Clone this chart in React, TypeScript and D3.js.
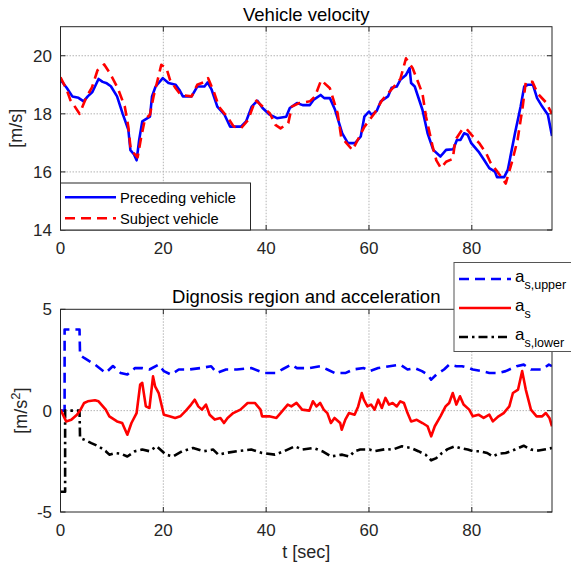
import React from "react";
import * as d3 from "d3";

// ---- Vehicle velocity (m/s) ----
const precedingT = [0, 1.2, 2.3, 3.5, 4.5, 5.3, 6.2, 7.4, 8.2, 9, 9.8, 11, 12.1, 13.2, 13.6, 14.3, 14.8, 15.3, 15.9, 17.4, 17.8, 18.5, 19.9, 21, 22.4, 23.1, 23.8, 25.5, 26.6, 28, 28.6, 29.4, 30.5, 31.9, 33, 35.1, 36.1, 37.2, 38.3, 39.3, 40.7, 42.1, 43.9, 44.6, 46, 47.1, 48.5, 49.2, 50.6, 51.3, 52.4, 53.4, 54.8, 55.9, 57.3, 58.4, 59.1, 60, 60.5, 61.5, 62.3, 63.7, 64.4, 65.4, 66.1, 67.2, 67.9, 68.2, 68.9, 70.4, 71.4, 72.5, 73.9, 75, 76.4, 77.1, 77.8, 78.5, 79.2, 79.9, 81.3, 82.4, 83.4, 84.5, 84.9, 86.3, 87, 88.4, 89.5, 90.2, 90.9, 91.9, 92.7, 93.7, 94.8, 95.6];
const precedingV = [19.17, 18.9, 18.6, 18.55, 18.43, 18.6, 18.75, 19.2, 19.1, 19.05, 18.95, 18.6, 18.0, 17.45, 16.75, 16.6, 16.4, 17.1, 17.74, 17.9, 18.6, 18.94, 19.23, 19.06, 19.0, 18.83, 18.6, 18.6, 18.94, 18.94, 19.08, 18.83, 18.25, 17.97, 17.56, 17.56, 17.74, 18.25, 18.45, 18.2, 17.97, 17.85, 17.9, 18.2, 18.37, 18.3, 18.3, 18.48, 18.65, 18.54, 18.54, 18.14, 17.33, 16.99, 16.99, 17.22, 17.9, 18.08, 17.97, 18.1, 18.43, 18.6, 18.9, 18.94, 19.17, 19.34, 19.57, 19.06, 18.94, 18.14, 17.33, 16.76, 16.53, 16.76, 16.78, 17.1, 17.1, 17.33, 17.28, 16.99, 16.7, 16.41, 16.13, 16.01, 15.82, 15.82, 16.07, 17.33, 18.25, 18.94, 19.0, 19.0, 18.54, 18.25, 17.97, 17.24];

const subjectT = [0, 1.2, 1.9, 2.6, 3.7, 5.1, 6.1, 7.2, 8.5, 9.6, 11.1, 12.5, 13.2, 13.6, 14.3, 15, 15.7, 16.4, 17.4, 18.1, 18.9, 19.6, 20.6, 21.3, 22.4, 23.4, 25.5, 26.6, 28, 28.7, 29.8, 30.8, 32.6, 33.7, 35.1, 36.5, 37.9, 39.3, 40.7, 41.8, 42.8, 44.3, 45, 46.4, 48.5, 49.5, 50.7, 52.4, 53.9, 54.6, 56.8, 59.1, 61, 62.6, 64.7, 66.1, 67.2, 68.5, 70.4, 71.1, 72.4, 73.1, 74, 75, 76.3, 76.8, 78.1, 78.9, 80.5, 81.5, 82.8, 83.7, 85, 85.7, 86.6, 87.9, 88.9, 89.9, 90.5, 91.8, 92.8, 94.4, 95.6];
const subjectV = [19.26, 18.83, 18.48, 18.3, 18.0, 18.6, 18.9, 19.5, 19.7, 19.4, 18.9, 18.25, 17.55, 16.87, 16.64, 16.5, 17.2, 17.8, 17.97, 18.6, 19.17, 19.69, 19.57, 19.17, 18.88, 18.65, 18.6, 19.0, 19.1, 19.23, 18.77, 18.25, 17.85, 17.56, 17.5, 17.79, 18.48, 18.25, 18.02, 17.62, 17.5, 17.68, 18.25, 18.37, 18.43, 18.6, 19.16, 18.88, 18.02, 17.2, 16.75, 17.55, 18.0, 18.48, 18.9, 19.2, 19.91, 19.57, 18.7, 17.9, 16.86, 16.4, 16.13, 16.35, 16.45, 17.1, 17.45, 17.5, 17.16, 16.98, 16.64, 16.3, 16.0, 15.83, 15.6, 16.4, 17.1, 18.24, 19.1, 19.1, 18.7, 18.4, 18.0];

// ---- Diagnosis region and acceleration (m/s^2) ----
const upperT = [0, 0.8, 0.8, 3.7, 3.8, 4.6, 6.7, 8.8, 10.2, 11.7, 13, 14.5, 15.9, 17.3, 19.1, 20.1, 21.5, 23, 25, 27.2, 29.3, 30.4, 32.2, 34.3, 37.1, 39.6, 42, 43.1, 44.9, 46, 48.4, 50.5, 51.9, 53.3, 55.5, 56.9, 59, 60.1, 61.8, 64, 66.1, 67.5, 68.9, 70.3, 71.4, 72.1, 73.1, 74.6, 75.6, 77, 78.1, 79.5, 80.2, 82, 83.4, 85.2, 86.6, 88.7, 90.1, 91.5, 93.6, 95, 95.6];
const upperA = [0, 0, 4.0, 4.0, 2.75, 2.6, 2.27, 1.86, 2.2, 1.86, 1.78, 2.1, 2.1, 2.03, 2.27, 1.95, 1.78, 2.03, 2.03, 2.1, 2.19, 1.86, 2.03, 2.03, 2.1, 1.86, 1.86, 2.03, 2.27, 2.1, 2.1, 2.19, 2.03, 1.86, 1.86, 2.03, 2.1, 1.95, 2.1, 2.19, 2.27, 2.03, 2.1, 1.95, 1.78, 1.53, 1.78, 2.03, 2.27, 2.19, 2.19, 2.1, 2.03, 1.95, 1.86, 1.86, 1.95, 2.19, 2.27, 2.03, 2.03, 2.27, 2.2];

const accT = [0, 1.1, 2.1, 3.2, 3.9, 4.6, 5.3, 6.7, 7.4, 8.8, 9.5, 11, 12, 13, 13.8, 14.8, 15.5, 15.9, 16.6, 17.3, 18, 18.4, 19.1, 20.1, 21.2, 22.3, 23.3, 24.4, 25.4, 26.1, 26.8, 27.5, 28.3, 29, 30, 31.1, 31.8, 32.5, 33.6, 35, 36.4, 37.8, 38.9, 39.2, 40.6, 42, 42.8, 44.2, 44.9, 45.9, 47, 48.4, 49.1, 49.8, 50.5, 51.2, 51.9, 52.6, 53.3, 54.4, 54.7, 55.4, 56.1, 57.2, 57.9, 58.6, 59, 59.7, 60.4, 61.1, 61.8, 62.5, 63.2, 63.9, 64.6, 65.4, 66.1, 66.8, 67.5, 68.2, 69.3, 70.4, 71.4, 72.1, 72.8, 73.9, 74.9, 75.6, 76.3, 77, 77.7, 78.4, 79.5, 80.2, 81.3, 82.3, 83.4, 84.1, 85.2, 86.2, 87.3, 88, 89, 89.8, 90.5, 91.5, 92.6, 93.7, 94.4, 95.1, 95.6];
const accA = [0.05, -0.53, -0.45, -0.2, 0.05, 0.38, 0.46, 0.51, 0.46, 0.05, -0.28, -0.53, -0.61, -1.19, -0.61, -0.12, 1.29, 1.37, 0.21, 0.13, 1.69, 1.2, 0.87, -0.2, -0.28, -0.36, -0.28, 0, 0.3, 0.54, 0.21, 0.05, 0.3, -0.2, -0.44, -0.36, -0.61, -0.36, -0.12, 0.05, 0.38, 0.38, 0.05, -0.28, -0.28, -0.36, -0.12, 0.3, 0.21, 0.38, 0.05, 0, 0.46, 0.21, 0.38, 0.05, -0.12, -0.61, -0.36, -0.61, -0.94, -0.44, -0.12, -0.2, 0.21, 0.87, 0.54, 0.21, 0.3, 0.05, 0.54, 0.13, 0.63, 0.3, 0.38, 0.21, 0.46, 0.38, -0.12, -0.53, -0.45, -0.61, -0.77, -1.27, -0.77, -0.28, 0.21, 0.38, 0.87, 0.3, 0.71, 0.3, 0.05, -0.28, -0.2, -0.36, -0.2, -0.53, -0.28, -0.12, 0.21, 0.87, 1.04, 1.95, 1.04, 0.05, -0.28, -0.28, -0.12, -0.36, -0.77];

const lowerT = [0, 0.9, 0.9, 3.7, 3.8, 4.6, 6, 7.4, 8.8, 9.5, 10.6, 11.7, 13, 14.5, 15.9, 17.3, 18.7, 19.4, 20.5, 21.9, 23.7, 25.8, 27.9, 29.7, 30.7, 32.1, 34.3, 37.1, 39.2, 41.7, 43.5, 45.6, 47, 49.2, 50.9, 52.6, 54.8, 56.2, 57.2, 58.3, 60.1, 61.1, 63.2, 64.6, 66.4, 68.2, 69.6, 71, 72.1, 73.1, 74.2, 75.3, 76.7, 77.7, 79.2, 80.2, 81.6, 83, 84.1, 85.2, 86.6, 88.4, 90.1, 91.5, 93, 94.4, 95.6];
const lowerA = [-4.0, -4.0, 0, 0, -1.35, -1.43, -1.6, -1.76, -2.0, -2.17, -2.09, -2.12, -2.26, -2.0, -1.92, -2.0, -1.76, -1.92, -2.17, -2.26, -2.0, -1.84, -2.0, -1.92, -2.17, -2.09, -2.0, -1.92, -2.09, -2.17, -2.0, -1.76, -1.92, -1.84, -2.0, -2.26, -2.17, -2.26, -2.0, -1.92, -1.92, -2.0, -1.9, -1.92, -1.76, -1.84, -2.0, -2.17, -2.45, -2.34, -2.09, -1.9, -1.76, -1.84, -1.92, -2.0, -2.0, -2.09, -2.26, -2.12, -2.09, -1.92, -1.73, -1.92, -1.97, -1.9, -1.84];

// ---- Axis settings ----
const timeTicks = [0, 20, 40, 60, 80];
const velTicks = [14, 16, 18, 20];
const velGrid = [16, 18, 20];
const accTicks = [-5, 0, 5];
const accGrid = [0];

const FONT = "'Liberation Sans', Arial, Helvetica, sans-serif";
const TEXT = "#262626";

const left = 60.5;
const right = 552;
const x = d3.scaleLinear().domain([0, 95.6]).range([left, right]);
const yVel = d3.scaleLinear().domain([14, 21]).range([230, 26.7]);
const yAcc = d3.scaleLinear().domain([-5, 5]).range([512, 309.3]);

type Pt = [number, number];
const zip = (a: number[], b: number[]): Pt[] => a.map((t, i) => [t, b[i]]);

function Axes({ y, yTicks, yGrid, top, bottom }: { y: d3.ScaleLinear<number, number>; yTicks: number[]; yGrid: number[]; top: number; bottom: number }) {
  const tl = 5;
  return (
    <g>
      {timeTicks.filter((t) => t > 0).map((t) => (
        <line key={"gx" + t} x1={x(t)} x2={x(t)} y1={top} y2={bottom} stroke="#b4b4b4" strokeWidth={1} strokeDasharray="1.5,1.5" />
      ))}
      {yGrid.map((v) => (
        <line key={"gy" + v} x1={left} x2={right} y1={y(v)} y2={y(v)} stroke="#b4b4b4" strokeWidth={1} strokeDasharray="1.5,1.5" />
      ))}
      {timeTicks.map((t) => (
        <g key={"tx" + t}>
          <line x1={x(t)} x2={x(t)} y1={bottom} y2={bottom - tl} stroke={TEXT} />
          <line x1={x(t)} x2={x(t)} y1={top} y2={top + tl} stroke={TEXT} />
        </g>
      ))}
      {yTicks.map((v) => (
        <g key={"ty" + v}>
          <line x1={left} x2={left + tl} y1={y(v)} y2={y(v)} stroke={TEXT} />
          <line x1={right} x2={right - tl} y1={y(v)} y2={y(v)} stroke={TEXT} />
        </g>
      ))}
    </g>
  );
}

function Labels({ y, yTicks, bottom }: { y: d3.ScaleLinear<number, number>; yTicks: number[]; bottom: number }) {
  return (
    <g fontFamily={FONT} fontSize={17} fill={TEXT}>
      {timeTicks.map((t) => (
        <text key={"lx" + t} x={x(t)} y={bottom + 24} textAnchor="middle">{t}</text>
      ))}
      {yTicks.map((v) => (
        <text key={"ly" + v} x={52} y={y(v) + 6} textAnchor="end">{v}</text>
      ))}
    </g>
  );
}

export default function App() {
  const velLine = d3.line<Pt>().x((d) => x(d[0])).y((d) => yVel(d[1]));
  const accLine = d3.line<Pt>().x((d) => x(d[0])).y((d) => yAcc(d[1]));

  return (
    <svg width={571} height={571} viewBox="0 0 571 571" style={{ position: "absolute", left: 0, top: 0, background: "#fff" }}>
      <defs>
        <clipPath id="clipVel"><rect x={left} y={yVel(21)} width={right - left} height={yVel(14) - yVel(21)} /></clipPath>
        <clipPath id="clipAcc"><rect x={left} y={yAcc(5)} width={right - left} height={yAcc(-5) - yAcc(5)} /></clipPath>
      </defs>
      <rect x={0} y={0} width={571} height={571} fill="#fff" />

      {/* Upper panel: vehicle velocity */}
      <Axes y={yVel} yTicks={velTicks} yGrid={velGrid} top={yVel(21)} bottom={yVel(14)} />
      <g clipPath="url(#clipVel)" fill="none" strokeWidth={2.6} strokeLinejoin="round">
        <path d={velLine(zip(precedingT, precedingV)) || ""} stroke="#0000ff" />
        <path d={velLine(zip(subjectT, subjectV)) || ""} stroke="#ff0000" strokeDasharray="10,6" />
      </g>
      <rect x={left} y={yVel(21)} width={right - left} height={yVel(14) - yVel(21)} fill="none" stroke={TEXT} strokeWidth={1} />
      <Labels y={yVel} yTicks={velTicks} bottom={yVel(14)} />
      <text x={(left + right) / 2} y={21} textAnchor="middle" fontFamily={FONT} fontSize={18.5} fill="#000">Vehicle velocity</text>
      <text transform={`translate(22,${(yVel(14) + yVel(21)) / 2}) rotate(-90)`} textAnchor="middle" fontFamily={FONT} fontSize={18} fill={TEXT}>[m/s]</text>

      {/* Upper legend */}
      <g fontFamily={FONT} fontSize={14.7} fill="#000">
        <rect x={left} y={183} width={190} height={47} fill="#fff" stroke={TEXT} strokeWidth={1} />
        <line x1={65} x2={116} y1={197.3} y2={197.3} stroke="#0000ff" strokeWidth={2.6} />
        <text x={120} y={202.5}>Preceding vehicle</text>
        <line x1={65} x2={116} y1={218.3} y2={218.3} stroke="#ff0000" strokeWidth={2.6} strokeDasharray="10,6" />
        <text x={120} y={223.5}>Subject vehicle</text>
      </g>

      {/* Lower panel: diagnosis region and acceleration */}
      <Axes y={yAcc} yTicks={accTicks} yGrid={accGrid} top={yAcc(5)} bottom={yAcc(-5)} />
      <g clipPath="url(#clipAcc)" fill="none" strokeWidth={2.6} strokeLinejoin="round">
        <path d={accLine(zip(upperT, upperA)) || ""} stroke="#0000ff" strokeDasharray="10,6" />
        <path d={accLine(zip(lowerT, lowerA)) || ""} stroke="#000" strokeDasharray="9,4,2.5,4" />
        <path d={accLine(zip(accT, accA)) || ""} stroke="#ff0000" />
      </g>
      <rect x={left} y={yAcc(5)} width={right - left} height={yAcc(-5) - yAcc(5)} fill="none" stroke={TEXT} strokeWidth={1} />
      <Labels y={yAcc} yTicks={accTicks} bottom={yAcc(-5)} />
      <text x={(left + right) / 2} y={303} textAnchor="middle" fontFamily={FONT} fontSize={18.5} fill="#000">Dignosis region and acceleration</text>
      <text x={(left + right) / 2} y={558} textAnchor="middle" fontFamily={FONT} fontSize={18} fill={TEXT}>t [sec]</text>
      <text transform={`translate(27,${(yAcc(5) + yAcc(-5)) / 2}) rotate(-90)`} textAnchor="middle" fontFamily={FONT} fontSize={18} fill={TEXT}>
        [m/s<tspan dy={-7} fontSize={13}>2</tspan><tspan dy={7}>]</tspan>
      </text>

      {/* Lower legend */}
      <g fontFamily={FONT} fill="#000">
        <rect x={454} y={262.5} width={120} height={89} fill="#fff" stroke="#555" strokeWidth={1} />
        <line x1={459} x2={511} y1={279} y2={279} stroke="#0000ff" strokeWidth={2.6} strokeDasharray="10,6" />
        <text x={515} y={281.5} fontSize={17}>a<tspan dy={7} fontSize={12.5}>s,upper</tspan></text>
        <line x1={459} x2={511} y1={308} y2={308} stroke="#ff0000" strokeWidth={2.6} />
        <text x={515} y={310.5} fontSize={17}>a<tspan dy={7} fontSize={12.5}>s</tspan></text>
        <line x1={459} x2={511} y1={337} y2={337} stroke="#000" strokeWidth={2.6} strokeDasharray="9,4,2.5,4" />
        <text x={515} y={339.5} fontSize={17}>a<tspan dy={7} fontSize={12.5}>s,lower</tspan></text>
      </g>
    </svg>
  );
}
